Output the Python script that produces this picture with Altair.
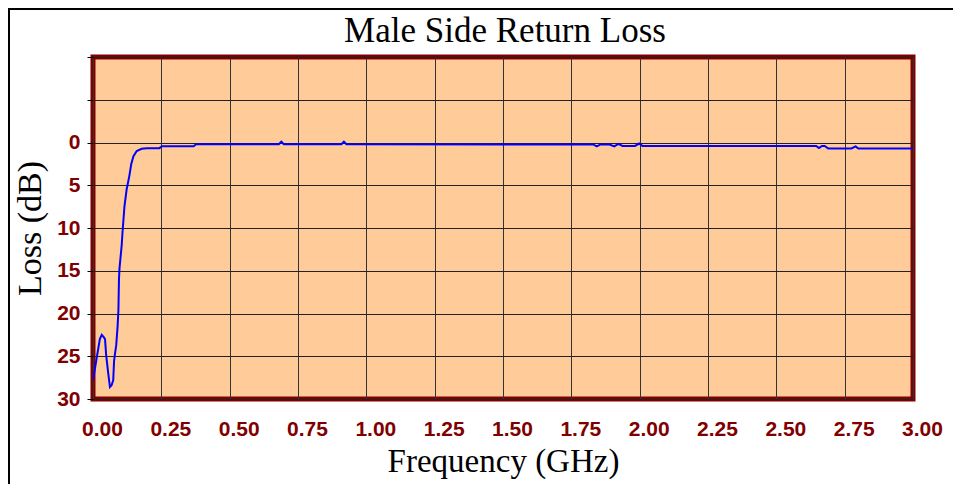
import altair as alt
import pandas as pd

# Frequency (GHz) and return loss (dB)
freq_ghz = [0.000, 0.012, 0.025, 0.032, 0.040, 0.044, 0.048, 0.055, 0.062, 0.068,
            0.074, 0.077, 0.080, 0.085, 0.090, 0.093, 0.095, 0.097, 0.105, 0.108,
            0.115, 0.123, 0.133, 0.140, 0.148, 0.160, 0.178, 0.197, 0.243, 0.252,
            0.368, 0.377, 0.680, 0.689, 0.698, 0.909, 0.918, 0.927, 1.830, 1.843,
            1.857, 1.890, 1.907, 1.922, 1.937, 1.983, 1.998, 2.010, 2.646, 2.656,
            2.667, 2.677, 2.690, 2.775, 2.790, 2.800, 3.000]
loss_db = [27.8, 25.5, 23.0, 22.5, 22.8, 23.0, 24.8, 26.8, 28.6, 28.4,
           27.8, 25.6, 24.8, 23.7, 21.5, 19.6, 16.0, 14.7, 12.0, 10.5,
           7.5, 5.5, 3.9, 2.5, 1.6, 1.0, 0.74, 0.66, 0.66, 0.43,
           0.43, 0.2, 0.2, -0.1, 0.2, 0.2, -0.1, 0.2, 0.23, 0.45,
           0.23, 0.23, 0.45, 0.15, 0.4, 0.4, 0.12, 0.4, 0.4, 0.65,
           0.4, 0.4, 0.7, 0.7, 0.45, 0.7, 0.7]

x_ticks = [0.0, 0.25, 0.5, 0.75, 1.0, 1.25, 1.5, 1.75, 2.0, 2.25, 2.5, 2.75, 3.0]
y_ticks = [-10, -5, 0, 5, 10, 15, 20, 25, 30]
chart_title = ["Male Side Return Loss"]

df = pd.DataFrame({"freq": freq_ghz, "loss": loss_db})

DARK_RED = "#800000"

line = alt.Chart(df).mark_line(color="#0000FF", strokeWidth=2, clip=True).encode(
    x=alt.X(
        "freq:Q",
        scale=alt.Scale(domain=[0, 3], nice=False, zero=False),
        axis=alt.Axis(
            values=x_ticks, format=".2f", grid=True, gridColor="#333333", gridWidth=1,
            ticks=False, domain=False, labelFont="Liberation Sans", labelFontWeight="bold",
            labelFontSize=21, labelColor=DARK_RED, labelPadding=19, labelOffset=9,
            labelFlush=False, labelOverlap=False, labelBound=False,
            title="Frequency (GHz)", titleFont="Liberation Serif", titleFontSize=33,
            titleFontWeight="normal", titleColor="black", titlePadding=6,
        ),
    ),
    y=alt.Y(
        "loss:Q",
        scale=alt.Scale(domain=[-10, 30], reverse=True, nice=False, zero=False),
        axis=alt.Axis(
            values=y_ticks, format="d", labelExpr="datum.value < 0 ? '' : datum.label",
            grid=True, gridColor="#222222", gridWidth=1,
            ticks=True, tickColor="black", tickSize=6, tickWidth=1, domain=False,
            labelFont="Liberation Sans", labelFontWeight="bold", labelFontSize=21,
            labelColor=DARK_RED, labelPadding=7, labelFlush=False, labelOverlap=False,
            title="Loss (dB)", titleFont="Liberation Serif", titleFontSize=34,
            titleFontWeight="normal", titleColor="black", titlePadding=9,
        ),
    ),
)

frame = alt.Chart(pd.DataFrame({"k": [0]})).mark_rect(
    fillOpacity=0, stroke="black", strokeWidth=2
).encode(
    x=alt.value(-84), x2=alt.value(2000), y=alt.value(-48), y2=alt.value(2000)
)

title_text = alt.Chart(pd.DataFrame({"t": chart_title})).mark_text(
    font="Liberation Serif", fontSize=35, color="black", align="center",
    baseline="alphabetic",
).encode(
    text="t:N", x=alt.value(412), y=alt.value(-15)
)

chart = alt.layer(frame, line, title_text).properties(
    width=820,
    height=342,
    background="white",
    autosize=alt.AutoSizeParams(type="none"),
    padding={"left": 85, "top": 49, "right": 40, "bottom": 85},
).configure_view(
    fill="#FFCC99", stroke=DARK_RED, strokeWidth=5
)

chart.save("out.html", embed_options={"renderer": "svg", "actions": False})
